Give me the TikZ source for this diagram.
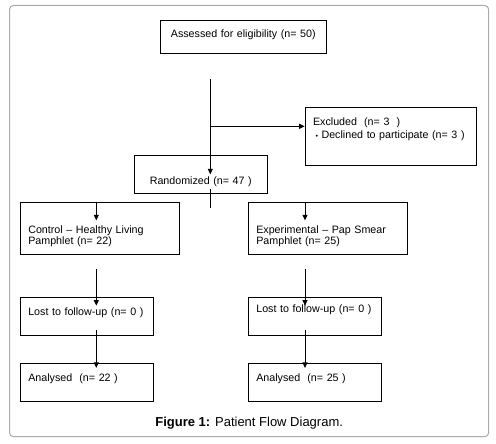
\documentclass[tikz,border=0pt]{standalone}
\usepackage{fontspec}
\setmainfont{Liberation Sans}
\usetikzlibrary{arrows.meta,calc}

\begin{document}
\begin{tikzpicture}[
  x=1pt, y=-1pt,
  font=\fontsize{10.7}{11.7}\selectfont,
  >={Triangle[length=5.5pt,width=5pt]},
  box/.style={draw=black, line width=0.75pt, align=left, inner xsep=8pt,
              inner ysep=0pt, text height=8pt},
  flow/.style={->, line width=0.75pt, draw=black},
  caption/.style={font=\fontsize{13}{15}\selectfont},
]
\useasboundingbox (0,0) rectangle (496,444);
\draw[rounded corners=4pt, draw=black!33, line width=1pt] (9.5,5.5) rectangle (488.7,436.7);

% ---- enrolment ----
\node[box, align=center, text width=150pt, minimum height=33pt, text depth=6.6pt] (assess)
  at (243.3,36.8) {Assessed for eligibility (n= 50)};
\node[box, text width=155.3pt, minimum height=58pt, text depth=30.6pt] (excl)
  at (390.7,136.3)
  {Excluded~~(n= 3~~)\\[1.6pt]
   \hspace*{2.5pt}{\fontsize{7}{7}\selectfont\textbullet}\ Declined to participate (n= 3 )};
\node[box, align=center, text width=117pt, minimum height=38pt, text height=20pt, text depth=0.6pt] (rand)
  at (200.8,174.3) {Randomized (n= 47 )};

% ---- allocation ----
\node[box, text width=143.4pt, minimum height=52pt, text height=10pt, text depth=0.6pt] (ctrl)
  at (100,228.3) {Control -- Healthy Living\\[0.3pt]Pamphlet (n= 22)};
\node[box, text width=143pt, minimum height=52pt, text height=10pt, text depth=0.6pt] (expt)
  at (327.8,228.3) {Experimental -- Pap Smear\\[0.3pt]Pamphlet (n= 25)};

% ---- follow-up and analysis ----
\node[box, text width=117.4pt, minimum height=38pt, text depth=9.6pt] (lostL)
  at (87,316.3) {Lost to follow-up (n= 0 )};
\node[box, text width=117.4pt, minimum height=38pt, text depth=15pt] (lostR)
  at (315,316.3) {Lost to follow-up (n= 0 )};
\node[box, text width=117.4pt, minimum height=38pt, text depth=9.6pt] (anaL)
  at (87,382.3) {Analysed~~(n= 22 )};
\node[box, text width=117.4pt, minimum height=38pt, text depth=9.6pt] (anaR)
  at (315,382.3) {Analysed~~(n= 25 )};

\node[caption] (cap) at (249.2,422.7) {\textbf{Figure 1:} Patient Flow Diagram.};

% ---- connectors ----
\coordinate (trunk) at (210.3,79);
\coordinate (split) at (210.3,126.3);
\coordinate (lcol) at (96.3,0);
\coordinate (rcol) at (305,0);

\draw[flow] (trunk) -- (trunk |- rand.center);
\draw[flow] (split) -- (split -| excl.west);
\draw[line width=0.75pt] ($(trunk |- rand.south)+(0,-5)$) -- ++(0,19);

\draw[flow] (lcol |- ctrl.north) -- ++(0,18.4);
\draw[flow] (rcol |- expt.north) -- ++(0,18.4);

\draw[flow] ($(lcol |- ctrl.south)+(0,14.7)$) -- ($(lcol |- lostL.north)+(0,8.7)$);
\draw[flow] ($(rcol |- expt.south)+(0,14.7)$) -- ($(rcol |- lostR.north)+(0,8.7)$);

\draw[flow] ($(lcol |- lostL.south)+(0,-5.3)$) -- ($(lcol |- anaL.north)+(0,5)$);
\draw[flow] ($(rcol |- lostR.south)+(0,-5.3)$) -- ($(rcol |- anaR.north)+(0,5)$);

\end{tikzpicture}
\end{document}
